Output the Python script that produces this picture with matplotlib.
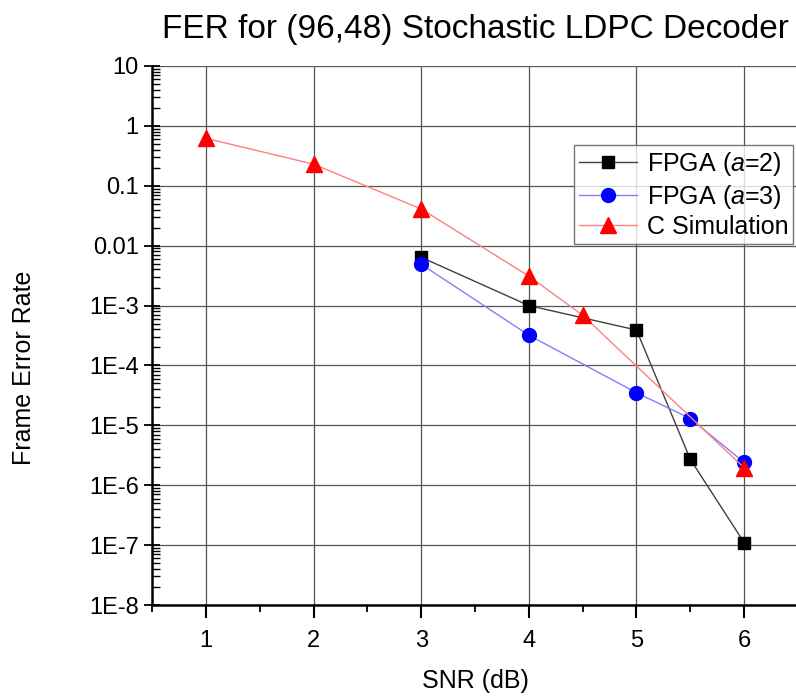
import matplotlib
matplotlib.use("Agg")
import matplotlib.pyplot as plt
from matplotlib.ticker import FixedLocator, LogLocator, NullFormatter

plt.rcParams["font.family"] = ["Liberation Sans", "DejaVu Sans"]
plt.rcParams["mathtext.fontset"] = "custom"
plt.rcParams["mathtext.rm"] = "Liberation Sans"
plt.rcParams["mathtext.it"] = "Liberation Sans:italic"

# data
snr_a2 = [3, 4, 5, 5.5, 6]
fer_a2 = [6.4e-3, 1.0e-3, 3.9e-4, 2.7e-6, 1.1e-7]
snr_a3 = [3, 4, 5, 5.5, 6]
fer_a3 = [4.9e-3, 3.2e-4, 3.5e-5, 1.3e-5, 2.4e-6]
snr_c = [1, 2, 3, 4, 4.5, 6]
fer_c = [0.62, 0.23, 0.041, 3.1e-3, 6.9e-4, 1.95e-6]

y_ticks = [1e1, 1e0, 1e-1, 1e-2, 1e-3, 1e-4, 1e-5, 1e-6, 1e-7, 1e-8]
y_labels = ["10", "1", "0.1", "0.01", "1E-3", "1E-4", "1E-5", "1E-6", "1E-7", "1E-8"]
x_ticks = [1, 2, 3, 4, 5, 6]
x_minor = [0.5, 1.5, 2.5, 3.5, 4.5, 5.5]

fig = plt.figure(figsize=(7.96, 6.98), dpi=100)
ax = fig.add_axes([152 / 796, 93 / 698, 646 / 796, 539 / 698])

ax.plot(snr_a2, fer_a2, color="#404040", lw=1, marker="s", ms=9,
        mfc="black", mec="black", label=r"FPGA ($\mathit{a}$=2)", zorder=3)
ax.plot(snr_a3, fer_a3, color="#8080ff", lw=1, marker="o", ms=10,
        mfc="blue", mec="blue", label=r"FPGA ($\mathit{a}$=3)", zorder=3)
ax.plot(snr_c, fer_c, color="#ff8080", lw=1, marker="^", ms=11,
        mfc="red", mec="red", label="C Simulation", zorder=3)

ax.set_yscale("log")
ax.set_ylim(1e-8, 10)
ax.set_xlim(0.5, 6.5)

ax.yaxis.set_major_locator(FixedLocator(y_ticks))
ax.set_yticklabels(y_labels)
ax.yaxis.set_minor_locator(LogLocator(base=10, subs=range(2, 10), numticks=20))
ax.yaxis.set_minor_formatter(NullFormatter())
ax.xaxis.set_major_locator(FixedLocator(x_ticks))
ax.xaxis.set_minor_locator(FixedLocator(x_minor))

ax.tick_params(axis="y", which="major", direction="inout", length=12, width=1.3, labelsize=17)
ax.tick_params(axis="y", which="minor", direction="in", length=6, width=1)
ax.tick_params(axis="x", which="major", direction="out", length=9, width=1.5, labelsize=17, pad=9)
ax.tick_params(axis="x", which="minor", direction="out", length=5, width=1.3)

ax.grid(True, which="major", color="#555555", lw=0.9)
for side in ["top", "right"]:
    ax.spines[side].set_visible(False)
for side in ["left", "bottom"]:
    ax.spines[side].set_linewidth(1.8)

ax.set_xlabel("SNR (dB)", fontsize=18, labelpad=12)
ax.set_ylabel("Frame Error Rate", fontsize=18, labelpad=38)
ax.yaxis.label.set_y(0.44)
ax.set_title("FER for (96,48) Stochastic LDPC Decoder", fontsize=24, pad=20)

leg = ax.legend(loc="upper right", bbox_to_anchor=(0.993, 0.853), fontsize=18,
                frameon=True, fancybox=False, handlelength=2.3, handletextpad=0.4,
                borderpad=0.2, labelspacing=0.18, borderaxespad=0)
leg.get_frame().set_edgecolor("#555555")
leg.get_frame().set_linewidth(1)

fig.savefig("out.png", dpi=100)
